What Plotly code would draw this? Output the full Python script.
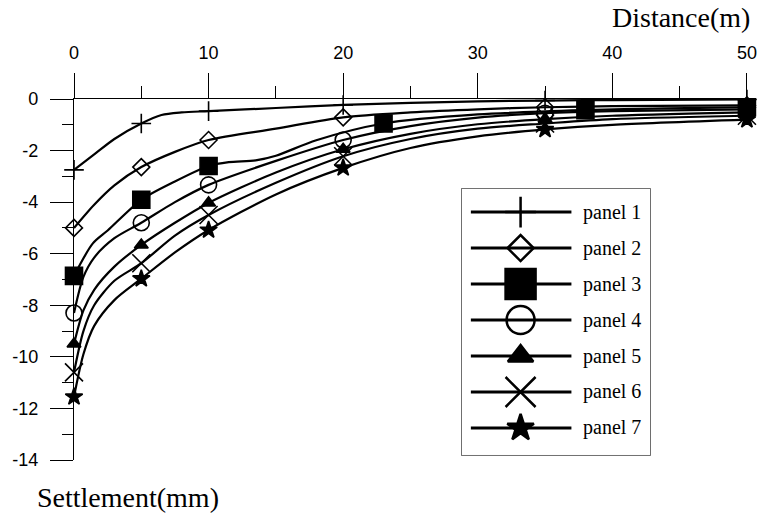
import plotly.graph_objects as go

# ---- data: surface settlement vs. distance for seven panels ----
names = ["panel 1", "panel 2", "panel 3", "panel 4", "panel 5", "panel 6", "panel 7"]

p1_x = [0, 1.5, 3, 5, 6.5, 8, 10, 15, 20, 25, 30, 35, 40, 50]
p1_y = [-2.75, -2.15, -1.55, -0.95, -0.62, -0.52, -0.47, -0.35, -0.23, -0.15, -0.09, -0.06, -0.04, -0.02]

p2_x = [0, 1.5, 3, 5, 7.5, 10, 15, 20, 25, 30, 35, 40, 50]
p2_y = [-5.0, -4.1, -3.35, -2.64, -2.05, -1.59, -1.15, -0.71, -0.52, -0.40, -0.32, -0.28, -0.25]

p3_x = [0, 1.4, 2.5, 5, 7.5, 10, 11.5, 13.5, 15, 18, 23, 30, 38, 44, 50]
p3_y = [-6.86, -5.6, -5.1, -3.91, -3.2, -2.6, -2.45, -2.38, -2.2, -1.6, -0.95, -0.6, -0.43, -0.36, -0.32]

p4_x = [0, 0.7, 1.5, 3, 5, 7.5, 10, 15, 20, 25, 30, 35, 40, 50]
p4_y = [-8.3, -6.9, -6.15, -5.4, -4.8, -4.0, -3.33, -2.4, -1.59, -1.05, -0.72, -0.55, -0.47, -0.4]

p5_x = [0, 0.7, 1.5, 3, 5, 7.5, 10, 15, 20, 25, 30, 35, 40, 50]
p5_y = [-9.5, -8.2, -7.4, -6.5, -5.66, -4.8, -4.03, -2.85, -1.95, -1.35, -0.98, -0.78, -0.65, -0.52]

p6_x = [0, 0.7, 1.5, 3, 5, 7.5, 10, 15, 20, 25, 30, 35, 40, 50]
p6_y = [-10.6, -9.0, -8.0, -7.05, -6.37, -5.3, -4.5, -3.25, -2.22, -1.55, -1.15, -0.95, -0.78, -0.65]

p7_x = [0, 0.7, 1.5, 3, 5, 7.5, 10, 15, 20, 25, 30, 35, 40, 50]
p7_y = [-11.55, -9.9, -8.8, -7.8, -6.97, -5.95, -5.08, -3.7, -2.67, -1.9, -1.45, -1.18, -1.0, -0.8]

# measurement points carrying a symbol
mark_x = [0, 5, 10, 20, 35, 50]
mark_x_p3 = [0, 5, 10, 23, 38, 50]

x_ticks = [0, 10, 20, 30, 40, 50]
y_ticks = [0, -2, -4, -6, -8, -10, -12, -14]

curves = [(p1_x, p1_y), (p2_x, p2_y), (p3_x, p3_y), (p4_x, p4_y),
          (p5_x, p5_y), (p6_x, p6_y), (p7_x, p7_y)]

# ---- styling ----
symbols = ["cross-thin", "diamond-open", "square", "circle-open",
           "triangle-up", "x-thin", "star"]
chart_sizes = [14, 13, 17, 16, 12, 18, 13]
legend_sizes = [22, 20, 30, 28, 22, 30, 20]

TICK_FONT = dict(family="Liberation Sans, Arial, sans-serif", size=18, color="black")
SERIF = "Liberation Serif, Times New Roman, serif"

fig = go.Figure()

for i, (cx, cy) in enumerate(curves):
    mx = mark_x_p3 if i == 2 else mark_x
    my = [cy[cx.index(v)] for v in mx]
    fig.add_trace(go.Scatter(
        x=cx, y=cy, mode="lines",
        line=dict(color="black", width=2.2, shape="spline", smoothing=0.8),
        showlegend=False, hoverinfo="skip", cliponaxis=False,
    ))
    fig.add_trace(go.Scatter(
        x=mx, y=my, mode="markers", name=names[i],
        marker=dict(symbol=symbols[i], size=chart_sizes[i], color="black",
                    line=dict(color="black", width=1.6)),
        showlegend=False, cliponaxis=False,
    ))

# ---- hand-built key on its own small axes ----
rows = list(range(1, len(names) + 1))
for i, r in enumerate(rows):
    fig.add_trace(go.Scatter(
        x=[0.048, 0.582], y=[r, r], mode="lines", xaxis="x2", yaxis="y2",
        line=dict(color="black", width=3), showlegend=False, hoverinfo="skip",
    ))
    fig.add_trace(go.Scatter(
        x=[0.312], y=[r], mode="markers", xaxis="x2", yaxis="y2",
        marker=dict(symbol=symbols[i], size=legend_sizes[i], color="black",
                    line=dict(color="black", width=2.5)),
        showlegend=False, hoverinfo="skip", cliponaxis=False,
    ))
    fig.add_annotation(x=0.635, y=r, xref="x2", yref="y2", text=names[i],
                       showarrow=False, xanchor="left", yanchor="middle",
                       font=dict(family=SERIF, size=20, color="black"))

LEG_X0, LEG_X1 = 0.5695, 0.846
LEG_Y0, LEG_Y1 = 0.0139, 0.7507
fig.add_shape(type="rect", xref="paper", yref="paper",
              x0=LEG_X0, x1=LEG_X1, y0=LEG_Y0, y1=LEG_Y1,
              line=dict(color="#444", width=1.5), fillcolor="rgba(0,0,0,0)", layer="below")

fig.add_annotation(text="Distance(m)", xref="paper", yref="paper", x=0.995, y=1.227,
                   xanchor="right", yanchor="middle", showarrow=False,
                   font=dict(family=SERIF, size=28, color="black"))
fig.add_annotation(text="Settlement(mm)", xref="paper", yref="paper", x=-0.058, y=-0.105,
                   xanchor="left", yanchor="middle", showarrow=False,
                   font=dict(family=SERIF, size=28, color="black"))

fig.update_layout(
    width=759, height=518,
    margin=dict(l=74, r=2, t=99, b=58),
    paper_bgcolor="white", plot_bgcolor="white",
    showlegend=False,
    xaxis=dict(
        side="top", range=[0, 50.6], tickvals=x_ticks, ticktext=[str(v) for v in x_ticks],
        showline=True, linecolor="black", linewidth=1.3,
        ticks="outside", ticklen=25, tickwidth=1.3, tickcolor="black",
        minor=dict(dtick=5, tick0=0, ticklen=12, tickwidth=1.3, tickcolor="black", ticks="outside"),
        showgrid=False, zeroline=False, tickfont=TICK_FONT, ticklabelstandoff=7,
    ),
    yaxis=dict(
        range=[-14, 0], tickvals=y_ticks, ticktext=[str(v) for v in y_ticks],
        showline=True, linecolor="black", linewidth=1.3,
        ticks="outside", ticklen=23, tickwidth=1.3, tickcolor="black",
        minor=dict(dtick=1, tick0=0, ticklen=11, tickwidth=1.3, tickcolor="black", ticks="outside"),
        showgrid=False, zeroline=False, tickfont=TICK_FONT, ticklabelstandoff=8,
    ),
    xaxis2=dict(domain=[LEG_X0, LEG_X1], range=[0, 1], anchor="y2", visible=False, fixedrange=True),
    yaxis2=dict(domain=[LEG_Y0, LEG_Y1], range=[7.75, 0.36], anchor="x2", visible=False, fixedrange=True),
)

fig.write_html("out.html")
